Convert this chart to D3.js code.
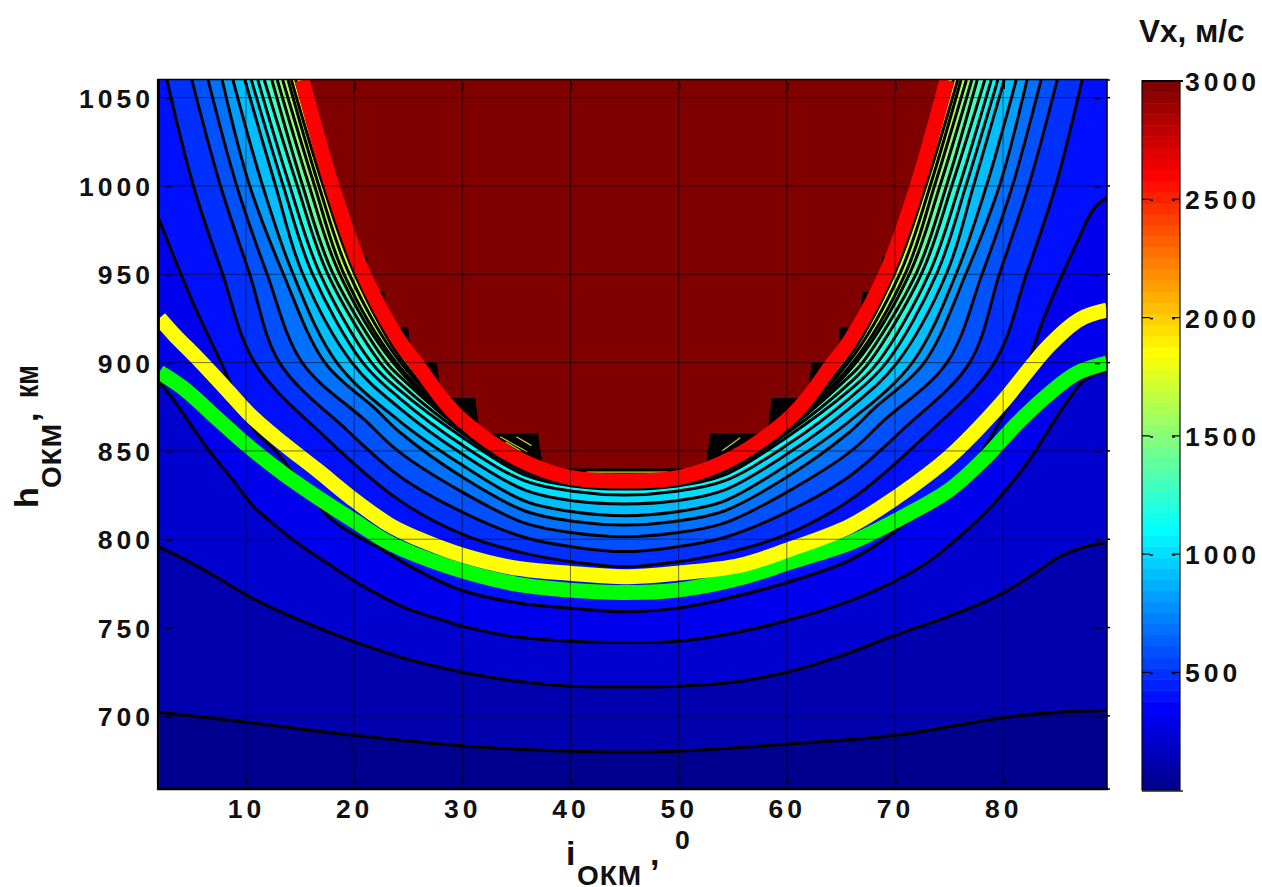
<!DOCTYPE html>
<html>
<head>
<meta charset="utf-8">
<script src="https://cdnjs.cloudflare.com/ajax/libs/d3/7.8.5/d3.min.js"></script>
<style>
body { margin: 0; background: #fff; }
text { font-family: "Liberation Sans", Arial, sans-serif; font-weight: bold; fill: #111; }
</style>
</head>
<body>
<svg id="chart" width="1262" height="887"></svg>
<script>
// tick labels
var xTicks = [10, 20, 30, 40, 50, 60, 70, 80];
var yTicks = [700, 750, 800, 850, 900, 950, 1000, 1050];
var cTicks = [500, 1000, 1500, 2000, 2500, 3000];

// contour levels, m/s, and their lines as [i, h]
var levels = [100, 200, 300, 400, 500, 600, 700, 800, 900, 1000, 1100, 1200, 1300, 1400, 1500, 1600, 1700, 1800, 1900];
var c100 = [[2,702],[10,696.4],[20,689],[30,683],[40,680],[45,679.6],[50,680],[60,684],[70,689],[80,699],[85,702],[89.6,703]];
var c200 = [[2,795.5],[4.2,789],[7.3,778.5],[10.6,766.6],[15,754],[20,742],[25,732],[30,724.7],[35,719.6],[40,716.8],[45,716.4],[50,716.8],[55,719],[60,724.7],[65,734],[70,745.7],[75,756.5],[79,766.5],[82.5,779],[85.2,790],[87.4,795.5],[89.6,798]];
var c300 = [[2,889],[3.3,879],[4.8,865.7],[6.7,849.3],[8.8,833.5],[10.6,819.3],[12.9,806.9],[15,796.7],[17.5,786.5],[19.9,776.8],[22.7,767.2],[25,760.4],[28.2,754.2],[30,750.8],[35,744.6],[40,742.3],[45,741.6],[50,742.3],[55,746.8],[60,754],[65,763.3],[69.8,775.7],[72.9,786.5],[75.7,800.1],[79,819.3],[82.2,843.1],[85.5,874.2],[87.5,890.1],[89.6,895.2]];
var c400 = [[2,980.7],[5,935.4],[7.6,901.4],[10.6,863.5],[12.9,848.8],[18,810.8],[22.7,793.8],[25.8,782.5],[30,771],[35.3,763.8],[40,761],[45,758.9],[49.9,761],[55.7,768.3],[60.7,776.8],[65.8,788],[69.8,803.5],[77.6,846.5],[79.4,863.5],[82.2,898.6],[83.8,925.8],[86.8,967.7],[88.3,986.4],[89.6,993.7]];
var c500 = [[2.7,1060],[5.1,1001],[7.8,951],[10.8,900],[17.3,858],[24.2,822],[30.2,802.3],[35.8,792],[40.4,787],[45,784.4],[49.6,787],[54.2,792],[59.8,802.3],[65.8,822],[72.7,858],[79.2,900],[82.2,951],[84.9,1001],[87.3,1060]];
var c600 = [[5,1060],[7.6,1001],[10.3,951],[13.1,900],[19.3,862],[24.2,835.7],[30,815.4],[35.8,801],[40.4,795.5],[45,793],[49.6,795.5],[54.2,801],[60,815.4],[65.8,835.7],[70.7,862],[76.9,900],[79.7,951],[82.4,1001],[85,1060]];
var c700 = [[6.5,1060],[9.1,1001],[11.9,951],[15.2,900],[21,867.4],[24.2,849.3],[30,826.7],[35.8,809.1],[40.4,803.5],[45,801.4],[49.6,803.5],[54.2,809.1],[60,826.7],[65.8,849.3],[69,867.4],[74.8,900],[78.1,951],[80.9,1001],[83.5,1060]];
var c800 = [[7.8,1060],[10.3,1001],[13.4,951],[17.3,900],[21.9,874.2],[24.2,860.7],[30,835.2],[35.8,816],[40.4,810],[45,808],[49.6,810],[54.2,816],[60,835.2],[65.8,860.7],[68.1,874.2],[72.7,900],[76.6,951],[79.7,1001],[82.2,1060]];
var c900 = [[8.8,1060],[11.5,1001],[14.3,951],[18.4,900],[24.2,866.9],[30,842],[35.8,821.6],[40.4,815.4],[45,813.3],[49.6,815.4],[54.2,821.6],[60,842],[65.8,866.9],[71.6,900],[75.7,951],[78.5,1001],[81.2,1060]];
var c1000 = [[9.9,1060],[12.7,1001],[15.2,951],[19.8,900],[24.2,874.2],[30,848.2],[35.8,827.8],[40.4,821.6],[45,820],[49.6,821.6],[54.2,827.8],[60,848.2],[65.8,874.2],[70.2,900],[74.8,951],[77.3,1001],[80.1,1060]];
var c1100 = [[10.5,1060],[13.4,1001],[16.1,951],[20.8,900],[24.2,879.9],[30,853.3],[35.8,833],[40.4,827],[45,825],[49.6,827],[54.2,833],[60,853.3],[65.8,879.9],[69.2,900],[73.9,951],[76.6,1001],[79.5,1060]];
var c1200 = [[11.1,1060],[14,1001],[16.8,951],[21.6,900],[24.2,884.4],[30,857.8],[35.8,836.3],[40.4,830],[45,828.4],[49.6,830],[54.2,836.3],[60,857.8],[65.8,884.4],[68.4,900],[73.2,951],[76,1001],[78.9,1060]];
var c1300 = [[11.7,1060],[14.7,1001],[17.5,951],[22.4,900],[24.2,888.4],[30,860],[35.8,838],[40.4,831],[45,829.5],[49.6,831],[54.2,838],[60,860],[65.8,888.4],[67.6,900],[72.5,951],[75.3,1001],[78.3,1060]];
var c1400 = [[12.4,1060],[15.2,1001],[18,951],[23,900],[24.2,892.4],[30,861.8],[35.8,839],[40.4,832],[45,830],[49.6,832],[54.2,839],[60,861.8],[65.8,892.4],[67,900],[72,951],[74.8,1001],[77.6,1060]];
var c1500 = [[12.9,1060],[15.8,1001],[18.6,951],[23.6,900],[30,862.9],[35.8,840],[40.4,832.3],[45,830.6],[49.6,832.3],[54.2,840],[60,862.9],[66.4,900],[71.4,951],[74.2,1001],[77.1,1060]];
var c1600 = [[13.4,1060],[16.3,1001],[19,951],[23.9,900],[30,864],[35.8,841],[40.4,833],[45,831],[49.6,833],[54.2,841],[60,864],[66.1,900],[71,951],[73.7,1001],[76.6,1060]];
var c1700 = [[13.9,1060],[16.7,1001],[19.5,951],[24.3,900],[30,865.2],[35.8,842],[40.4,833.5],[45,832],[49.6,833.5],[54.2,842],[60,865.2],[65.7,900],[70.5,951],[73.3,1001],[76.1,1060]];
var c1800 = [[14.2,1060],[17.1,1001],[20,951],[24.6,900],[30,865.8],[35.8,844],[40.4,834],[45,832],[49.6,834],[54.2,844],[60,865.8],[65.4,900],[70,951],[72.9,1001],[75.8,1060]];
var c1900 = [[14.6,1060],[17.5,1001],[20.4,951],[25,900],[30,866.9],[35.8,845],[40.4,835],[45,833],[49.6,835],[54.2,845],[60,866.9],[65,900],[69.6,951],[72.5,1001],[75.4,1060]];
var contours = [c100, c200, c300, c400, c500, c600, c700, c800, c900, c1000, c1100, c1200, c1300, c1400, c1500, c1600, c1700, c1800, c1900];

// the three thick coloured lines
var greenLine = [[2,894.6],[4.2,885.6],[7.3,868.6],[10.1,853.3],[13.4,837.4],[16.6,823.8],[19.9,810.8],[23.3,797.8],[28.9,784.2],[35,774.6],[39.9,771.2],[45,769.8],[49.9,771.2],[55.7,778],[60.3,787],[65.8,797.8],[69.8,809.7],[75,827.8],[78.3,845.9],[81.3,865.7],[84.3,882.7],[86.8,894],[89.6,899.7]];
var yellowLine = [[2,925.2],[3.4,915.6],[5.5,902.6],[8.1,885.6],[10.4,870.3],[13.4,854.4],[16.6,839.1],[19.9,822.7],[23.3,808],[25.8,800.6],[30,791],[35,783.6],[39.9,780.8],[45,778.8],[49.9,780.8],[55.7,785.3],[60.3,794.4],[65.8,807.4],[70,823.3],[75,846.5],[79.7,876],[84.3,910],[87.1,924.6],[89.6,929.7]];
var redLine = [[15.2,1060],[17.9,1001],[20.8,951],[24.2,912],[25.7,900],[28.2,879],[30,867.4],[35,846],[39.9,835],[45,833],[50.1,835],[55,846],[60,867.4],[61.8,879],[64.3,900],[65.8,912],[69.2,951],[72.1,1001],[74.8,1060]];

// stepped edge of the saturated 3000 m/s area
var stairs = [[15.2,1060],[17.9,1001],[19.15,980],[19.8,980],[20,960],[21.2,960],[21.3,940],[22.8,940],[22.9,920],[25,920],[25.3,900],[27.65,900],[28.1,880],[31.2,880],[31.6,860],[37,860],[37.45,840],[52.5,840],[52.9,860],[58.2,860],[58.6,880],[61.9,880],[62.3,900],[64.7,900],[64.9,920],[66.7,920],[67,940],[68.6,940],[68.8,960],[70,960],[70.3,980],[70.8,980],[72.1,1001],[74.8,1060]];
// thin bright slivers left inside the black steps
var slivers = [
  [[33.5,858],[36,849.5]], [[35,858],[36.4,853]], [[34,855],[35.4,850]],
  [[54,850],[55.7,857.5]], [[55.4,850],[57,856]], [[41.5,838],[49,838]]
];

var width = 1262, height = 887;
var svg = d3.select("#chart");

var left = 159.4, right = 1107, top_ = 80, bottom = 789;
var x = d3.scaleLinear().domain([2, 89.6]).range([left, right]);
var y = d3.scaleLinear().domain([658.6, 1060]).range([bottom, top_]);
var cy = d3.scaleLinear().domain([3, 3000]).range([790, 81]);

// jet(64) from matlab
var jetIdx = d3.scaleLinear()
  .domain([0, 7, 23, 39, 55, 63])
  .range(["#00008f", "#0000ff", "#00ffff", "#ffff00", "#ff0000", "#800000"])
  .interpolate(d3.interpolateRgb);
function jet(v) {
  var idx = Math.max(0, Math.min(63, Math.floor(v / 3000 * 64)));
  return jetIdx(idx);
}

svg.append("clipPath").attr("id", "plotClip").append("rect")
  .attr("x", left).attr("y", top_).attr("width", right - left).attr("height", bottom - top_);

var line = d3.line().x(function(d) { return x(d[0]); }).y(function(d) { return y(d[1]); })
  .curve(d3.curveCatmullRom.alpha(0.5));
var lineStraight = d3.line().x(function(d) { return x(d[0]); }).y(function(d) { return y(d[1]); });

// closes a contour through the top corners of the plot
function closedUp(pts, gen) {
  return gen(pts) + "L" + right + "," + top_ + "L" + left + "," + top_ + "Z";
}

var plot = svg.append("g").attr("clip-path", "url(#plotClip)");

plot.append("rect").attr("x", left).attr("y", top_).attr("width", right - left).attr("height", bottom - top_)
  .attr("fill", jet(0));

plot.selectAll("path.band").data(contours).enter().append("path")
  .attr("class", "band")
  .attr("d", function(d) { return closedUp(d, line); })
  .attr("fill", function(d, k) { return jet(levels[k]); });

plot.selectAll("path.contour").data(contours).enter().append("path")
  .attr("class", "contour")
  .attr("d", line)
  .attr("fill", "none")
  .attr("stroke", "#000")
  .attr("stroke-width", 3);

// everything above the red line is dense lines, then the flat top
plot.append("path").attr("d", closedUp(redLine, line)).attr("fill", "#000");
plot.append("path").attr("d", closedUp(stairs, lineStraight)).attr("fill", jet(3000));
plot.selectAll("path.sliver").data(slivers).enter().append("path")
  .attr("class", "sliver")
  .attr("d", lineStraight)
  .attr("stroke", "#c8d020")
  .attr("stroke-width", 1.2);

plot.append("path").attr("d", line(greenLine)).attr("fill", "none").attr("stroke", "#00ff00").attr("stroke-width", 15);
plot.append("path").attr("d", line(yellowLine)).attr("fill", "none").attr("stroke", "#ffff00").attr("stroke-width", 15);
plot.append("path").attr("d", line(redLine)).attr("fill", "none").attr("stroke", "#ff0000").attr("stroke-width", 15);

// grid
var grid = svg.append("g");
grid.selectAll("line.gx").data(xTicks).enter().append("line")
  .attr("x1", x).attr("x2", x).attr("y1", top_).attr("y2", bottom)
  .attr("stroke", "#000").attr("stroke-opacity", 0.55).attr("stroke-width", 1);
grid.selectAll("line.gy").data(yTicks).enter().append("line")
  .attr("x1", left).attr("x2", right).attr("y1", y).attr("y2", y)
  .attr("stroke", "#000").attr("stroke-opacity", 0.55).attr("stroke-width", 1);

// small tick dashes just inside the frame
grid.selectAll("line.dl").data(yTicks).enter().append("line")
  .attr("x1", left + 7).attr("x2", left + 12).attr("y1", function(d) { return y(d) + 1; }).attr("y2", function(d) { return y(d) + 1; })
  .attr("stroke", "#000").attr("stroke-width", 1.5);
grid.selectAll("line.dr").data(yTicks).enter().append("line")
  .attr("x1", right - 12).attr("x2", right - 7).attr("y1", function(d) { return y(d) + 1; }).attr("y2", function(d) { return y(d) + 1; })
  .attr("stroke", "#000").attr("stroke-width", 1.5);
grid.selectAll("line.db").data(xTicks).enter().append("line")
  .attr("x1", function(d) { return x(d) + 1; }).attr("x2", function(d) { return x(d) + 1; }).attr("y1", bottom - 9).attr("y2", bottom - 5)
  .attr("stroke", "#000").attr("stroke-width", 1.5);
grid.selectAll("line.dt").data(xTicks).enter().append("line")
  .attr("x1", function(d) { return x(d) + 1; }).attr("x2", function(d) { return x(d) + 1; }).attr("y1", top_ + 3).attr("y2", top_ + 9)
  .attr("stroke", "#000").attr("stroke-width", 1.5);

// frame
svg.append("line").attr("x1", left - 1).attr("x2", left - 1).attr("y1", top_ - 1).attr("y2", bottom + 1).attr("stroke", "#000").attr("stroke-width", 3);
svg.append("line").attr("x1", left - 2).attr("x2", right + 1).attr("y1", bottom).attr("y2", bottom).attr("stroke", "#000").attr("stroke-width", 2.5);
svg.append("line").attr("x1", left - 2).attr("x2", right + 1).attr("y1", top_ - 0.5).attr("y2", top_ - 0.5).attr("stroke", "#000").attr("stroke-width", 1.5);
svg.append("line").attr("x1", right).attr("x2", right).attr("y1", top_).attr("y2", bottom).attr("stroke", "#000").attr("stroke-width", 1.5);
svg.selectAll("line.outR").data(yTicks.concat([1060, 658.6])).enter().append("line")
  .attr("x1", right).attr("x2", right + 3).attr("y1", y).attr("y2", y)
  .attr("stroke", "#000").attr("stroke-width", 1.5);

// axes text
var xAxis = d3.axisBottom(x).tickValues(xTicks).tickFormat(d3.format("d")).tickSize(0).tickPadding(0);
var gx = svg.append("g").attr("transform", "translate(0," + bottom + ")").call(xAxis);
gx.select(".domain").remove();
gx.selectAll("text").attr("dy", null).attr("y", 29).style("font-size", "26.5px").style("letter-spacing", "4px").attr("font-family", null);

var yAxis = d3.axisLeft(y).tickValues(yTicks).tickFormat(d3.format("d")).tickSize(0).tickPadding(0);
var gy = svg.append("g").attr("transform", "translate(154,0)").call(yAxis);
gy.select(".domain").remove();
gy.selectAll("text").attr("dy", "0.36em").style("font-size", "26.5px").style("letter-spacing", "4px").attr("font-family", null);

// colour bar
var cells = d3.range(64);
var cellH = (790 - 81) / 64;
svg.selectAll("rect.cell").data(cells).enter().append("rect")
  .attr("class", "cell")
  .attr("x", 1142).attr("width", 38)
  .attr("y", function(d) { return 790 - (d + 1) * cellH; })
  .attr("height", cellH + 0.5)
  .attr("fill", function(d) { return jetIdx(d); });
svg.append("rect").attr("x", 1142).attr("y", 81).attr("width", 38).attr("height", 709)
  .attr("fill", "none").attr("stroke", "#000").attr("stroke-opacity", 0.75).attr("stroke-width", 1.5);
svg.append("line").attr("x1", 1142).attr("x2", 1183).attr("y1", 81).attr("y2", 81).attr("stroke", "#000").attr("stroke-width", 2);
svg.append("line").attr("x1", 1142).attr("x2", 1183).attr("y1", 791).attr("y2", 791).attr("stroke", "#222").attr("stroke-width", 1.5);

var cbTicks = svg.selectAll("g.cbt").data(cTicks.slice(0, 5)).enter().append("g").attr("class", "cbt");
cbTicks.append("line").attr("x1", 1142).attr("x2", 1150).attr("y1", cy).attr("y2", cy).attr("stroke", "#000").attr("stroke-width", 1.2);
cbTicks.append("line").attr("x1", 1150).attr("x2", 1153).attr("y1", function(d) { return cy(d) + 1; }).attr("y2", function(d) { return cy(d) + 1; }).attr("stroke", "#000").attr("stroke-width", 1.5);
cbTicks.append("line").attr("x1", 1172).attr("x2", 1180).attr("y1", cy).attr("y2", cy).attr("stroke", "#000").attr("stroke-width", 1.2);
cbTicks.append("line").attr("x1", 1172).attr("x2", 1175).attr("y1", function(d) { return cy(d) + 1; }).attr("y2", function(d) { return cy(d) + 1; }).attr("stroke", "#000").attr("stroke-width", 1.5);

var cAxis = d3.axisRight(cy).tickValues(cTicks).tickFormat(d3.format("d")).tickSize(0).tickPadding(0);
var gc = svg.append("g").attr("transform", "translate(1185,0)").call(cAxis);
gc.select(".domain").remove();
gc.selectAll("text").attr("dy", "0.36em").style("font-size", "26.5px").style("letter-spacing", "4px").attr("font-family", null);

// titles
svg.append("text").attr("x", 1139).attr("y", 42).style("font-size", "31.5px").text("Vx, м/с");

svg.append("text").attr("x", 566).attr("y", 865).style("font-size", "34px").text("i");
svg.append("text").attr("x", 577).attr("y", 885).style("font-size", "28px").style("letter-spacing", "1px").text("ОКМ");
svg.append("text").attr("x", 650).attr("y", 865).style("font-size", "34px").text(",");
svg.append("text").attr("x", 675).attr("y", 849).style("font-size", "26.5px").text("0");

var yTitle = svg.append("g").attr("transform", "translate(38,508) rotate(-90)");
yTitle.append("text").attr("x", 0).attr("y", 0).style("font-size", "34px").text("h");
yTitle.append("text").attr("x", 20).attr("y", 23).style("font-size", "28px").style("letter-spacing", "1px").text("ОКМ");
yTitle.append("text").attr("x", 86).attr("y", 0).style("font-size", "34px").text(",");
yTitle.append("text").attr("x", 110).attr("y", 0).style("font-size", "34px")
  .attr("textLength", 33).attr("lengthAdjust", "spacingAndGlyphs").text("км");
</script>
</body>
</html>
